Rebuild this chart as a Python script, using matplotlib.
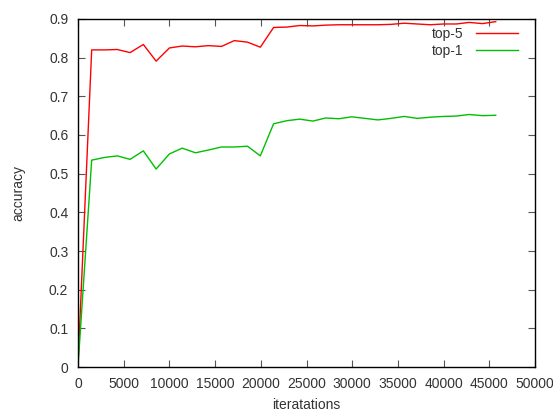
import matplotlib
matplotlib.use("Agg")
import matplotlib.pyplot as plt
from matplotlib.ticker import FuncFormatter

# test snapshots (iterations) and accuracies
iterations = [0, 1500, 2900, 4300, 5700, 7150, 8550, 10000, 11400, 12850,
              14250, 15700, 17100, 18550, 19950, 21400, 22850, 24250, 25700,
              27100, 28550, 29950, 31400, 32800, 34250, 35700, 37100, 38550,
              40000, 41400, 42800, 44250, 45700]
top5 = [0.005, 0.820, 0.820, 0.821, 0.813, 0.834, 0.791, 0.825, 0.830, 0.828,
        0.831, 0.829, 0.844, 0.840, 0.827, 0.878, 0.879, 0.883, 0.882,
        0.884, 0.885, 0.885, 0.885, 0.885, 0.886, 0.889, 0.887, 0.885,
        0.887, 0.887, 0.891, 0.888, 0.893]
top1 = [0.001, 0.535, 0.542, 0.546, 0.537, 0.559, 0.512, 0.551, 0.566, 0.554,
        0.561, 0.569, 0.569, 0.571, 0.546, 0.629, 0.637, 0.641, 0.636,
        0.644, 0.642, 0.647, 0.643, 0.639, 0.643, 0.648, 0.643, 0.646,
        0.648, 0.649, 0.653, 0.650, 0.651]

xticks = list(range(0, 50001, 5000))
yticks = [0, 0.1, 0.2, 0.3, 0.4, 0.5, 0.6, 0.7, 0.8, 0.9]

plt.rcParams['font.family'] = ['Liberation Sans', 'DejaVu Sans']
textcol = '#333333'

fig = plt.figure(figsize=(5.53, 4.12), dpi=100)
ax = fig.add_axes([0.141, 0.109, 0.8265, 0.845])

ax.plot(iterations, top5, color='#ff0000', lw=1, label='top-5')
ax.plot(iterations, top1, color='#00c000', lw=1, label='top-1')

ax.set_xlim(0, 50000)
ax.set_ylim(0, 0.9)
ax.set_xticks(xticks)
ax.set_yticks(yticks)
ax.yaxis.set_major_formatter(FuncFormatter(lambda v, p: '%g' % round(v, 2)))
ax.tick_params(direction='in', top=True, right=True, length=5, width=0.8,
               labelsize=10, labelcolor=textcol, color='#555555', pad=7)
for s in ax.spines.values():
    s.set_linewidth(1)
    s.set_color('black')

ax.set_xlabel('iteratations', fontsize=10, color=textcol, labelpad=5.5)
ax.set_ylabel('accuracy', fontsize=10, color=textcol, labelpad=17)

ax.legend(loc='upper right', frameon=False, markerfirst=False, fontsize=10,
          handlelength=3.0, handletextpad=0.9, labelspacing=0.2,
          borderaxespad=0.2, bbox_to_anchor=(0.98, 1.0),
          labelcolor=textcol)

fig.savefig('out.png', dpi=100)
